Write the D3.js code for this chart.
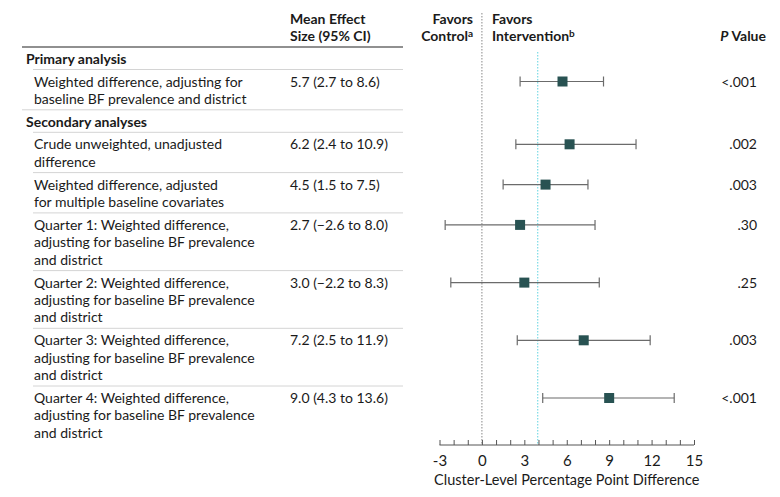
<!DOCTYPE html>
<html><head><meta charset="utf-8">
<script src="https://cdn.jsdelivr.net/npm/d3@7"></script>
<style>
body{margin:0;background:#fff}
svg{font-family:Lato,"Open Sans",sans-serif}
</style></head>
<body><svg id="c" width="780" height="497"></svg>
<script>
// ---- data ----
const sections = ["Primary analysis", "Secondary analyses"];
const labels = [
  ["Weighted difference, adjusting for", "baseline BF prevalence and district"],
  ["Crude unweighted, unadjusted", "difference"],
  ["Weighted difference, adjusted", "for multiple baseline covariates"],
  ["Quarter 1: Weighted difference,", "adjusting for baseline BF prevalence", "and district"],
  ["Quarter 2: Weighted difference,", "adjusting for baseline BF prevalence", "and district"],
  ["Quarter 3: Weighted difference,", "adjusting for baseline BF prevalence", "and district"],
  ["Quarter 4: Weighted difference,", "adjusting for baseline BF prevalence", "and district"]
];
const rowSection = [0, 1, 1, 1, 1, 1, 1];
const estimates = [5.7, 6.2, 4.5, 2.7, 3.0, 7.2, 9.0];
const lower = [2.7, 2.4, 1.5, -2.6, -2.2, 2.5, 4.3];
const upper = [8.6, 10.9, 7.5, 8.0, 8.3, 11.9, 13.6];
const pValues = ["<.001", ".002", ".003", ".30", ".25", ".003", "<.001"];
const tickLabels = [-3, 0, 3, 6, 9, 12, 15];
const referenceLine = 3.95;

// ---- layout ----
const svg = d3.select("#c");
const x = d3.scaleLinear().domain([-3, 15]).range([439.5, 694]);
const lineH = 17.4;
const fs = 14;
const textCol = "#1a1a1a";

let yCur = 47;
const items = [];
let lastSection = -1;
labels.forEach((lab, i) => {
  if (rowSection[i] !== lastSection) {
    items.push({type: "section", text: sections[rowSection[i]], top: yCur, h: 22.5});
    yCur += 22.5;
    lastSection = rowSection[i];
  }
  const h = lab.length * lineH + 5.5;
  items.push({type: "row", i, top: yCur, h});
  yCur += h;
});

// header
const hdr = svg.append("g").attr("font-weight", "bold").attr("font-size", fs).attr("fill", textCol);
hdr.append("text").attr("x", 290).attr("y", 24).text("Mean Effect");
hdr.append("text").attr("x", 290).attr("y", 41).text("Size (95% CI)");
hdr.append("text").attr("x", 473).attr("y", 24).attr("text-anchor", "end").text("Favors");
const ctl = hdr.append("text").attr("x", 473).attr("y", 41).attr("text-anchor", "end");
ctl.append("tspan").text("Control");
ctl.append("tspan").attr("font-size", 10).attr("dy", -4).text("a");
hdr.append("text").attr("x", 492).attr("y", 24).text("Favors");
const itv = hdr.append("text").attr("x", 492).attr("y", 41);
itv.append("tspan").text("Intervention");
itv.append("tspan").attr("font-size", 10).attr("dy", -4).text("b");
const pv = hdr.append("text").attr("x", 766).attr("y", 41).attr("text-anchor", "end");
pv.append("tspan").attr("font-style", "italic").text("P");
pv.append("tspan").text(" Value");

svg.append("line").attr("x1", 22).attr("x2", 403).attr("y1", 47).attr("y2", 47)
  .attr("stroke", "#222").attr("stroke-width", 1.2);

svg.append("line").attr("x1", x(0)).attr("x2", x(0)).attr("y1", 13).attr("y2", 444)
  .attr("stroke", "#888").attr("stroke-width", 1).attr("stroke-dasharray", "1.5,1.5");
svg.append("line").attr("x1", x(referenceLine)).attr("x2", x(referenceLine)).attr("y1", 52).attr("y2", 444)
  .attr("stroke", "#5fd3e0").attr("stroke-width", 1).attr("stroke-dasharray", "1.5,1.5");

items.forEach((it, k) => {
  if (k > 0) {
    svg.append("line").attr("x1", it.type === "section" ? 22 : 33).attr("x2", 403)
      .attr("y1", it.top).attr("y2", it.top).attr("stroke", "#d4d4d4").attr("stroke-width", 1);
  }
  if (it.type === "section") {
    svg.append("text").attr("x", 26).attr("y", it.top + 17).attr("font-size", fs)
      .attr("font-weight", "bold").attr("fill", textCol).text(it.text);
  } else {
    const i = it.i;
    const cy = it.top + 12;
    const t = svg.append("text").attr("font-size", fs).attr("fill", textCol);
    labels[i].forEach((ln, j) => {
      t.append("tspan").attr("x", 34).attr("y", cy + 5 + j * lineH).text(ln);
    });
    svg.append("text").attr("x", 290).attr("y", cy + 5).attr("font-size", fs).attr("fill", textCol)
      .text(`${estimates[i].toFixed(1)} (${lower[i].toFixed(1).replace("-", "\u2212")} to ${upper[i].toFixed(1)})`);
    svg.append("text").attr("x", 757).attr("y", cy + 5).attr("font-size", fs).attr("fill", textCol)
      .attr("text-anchor", "end").text(pValues[i]);
    const g = svg.append("g").attr("stroke", "#6b6b6b").attr("stroke-width", 1.2);
    g.append("line").attr("x1", x(lower[i])).attr("x2", x(upper[i])).attr("y1", cy).attr("y2", cy);
    g.append("line").attr("x1", x(lower[i])).attr("x2", x(lower[i])).attr("y1", cy - 5).attr("y2", cy + 5);
    g.append("line").attr("x1", x(upper[i])).attr("x2", x(upper[i])).attr("y1", cy - 5).attr("y2", cy + 5);
    svg.append("rect").attr("x", x(estimates[i]) - 5).attr("y", cy - 5).attr("width", 10).attr("height", 10)
      .attr("fill", "#285252");
  }
});

// axis
const ax = svg.append("g").attr("transform", "translate(0,445)");
ax.call(d3.axisTop(x).tickValues(d3.range(-3, 16, 1)).tickSize(5).tickFormat(""));
ax.select(".domain").attr("stroke", "#555").attr("d", `M${x(-3)},0H${x(15)}`);
ax.selectAll(".tick line").attr("stroke", "#555");
const ax2 = svg.append("g").attr("transform", "translate(0,445)");
ax2.call(d3.axisBottom(x).tickValues(tickLabels).tickSize(0).tickPadding(10)
  .tickFormat(d => String(d)));
ax2.select(".domain").remove();
ax2.selectAll("text").attr("font-size", 15).attr("fill", textCol).attr("font-family", "Lato,'Open Sans',sans-serif");
svg.append("text").attr("x", x(6)).attr("y", 485).attr("text-anchor", "middle")
  .attr("font-size", 14.5).attr("fill", textCol).text("Cluster-Level Percentage Point Difference");
</script></body></html>
